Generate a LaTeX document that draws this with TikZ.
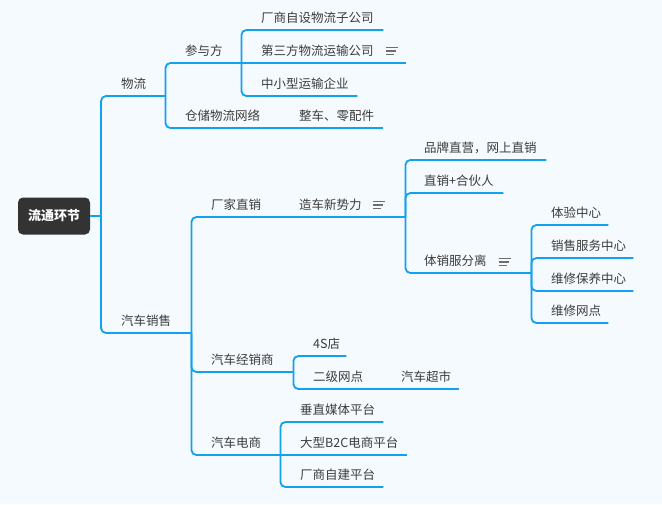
\documentclass[tikz,border=0pt]{standalone}
\usepackage{fontspec}
\setmainfont{Noto Sans CJK SC}
\usepackage{tikz}
\usetikzlibrary{calc,positioning}
\definecolor{bgcol}{RGB}{245,250,254}
\definecolor{linecol}{RGB}{18,161,236}
\definecolor{txtcol}{RGB}{60,60,60}
\definecolor{rootcol}{RGB}{51,51,51}
\definecolor{iconcol}{RGB}{110,110,110}
\tikzset{
  branch/.style={draw=linecol, line width=1.8pt, rounded corners=5pt},
  root/.style={draw=none, fill=rootcol, rounded corners=5pt, minimum width=72pt, minimum height=37pt,
    text=white, font=\fontsize{13}{15}\selectfont\bfseries, inner sep=0pt},
  topic/.style={anchor=south west, inner xsep=0pt, inner ysep=0pt, text height=10pt, text depth=7.3pt,
    text width=#1, align=left, text=txtcol, font=\fontsize{12.5}{14}\selectfont},
  noteicon/.pic={
    \draw[iconcol, line width=1.1pt] (0,-3.5) -- (12,-3.5) (0,0) -- (10,0) (0,3.5) -- (8,3.5);
  }
}
\begin{document}
\begin{tikzpicture}[x=1pt,y=-1pt]
  \fill[bgcol] (0,0) rectangle (662,504);
  \useasboundingbox (0,0) rectangle (662,504);

  \node[root] (liutong) at (54,216) {流通环节};
  \coordinate (rootj) at (101,216);

  \node[topic=44pt] (wuliu) at (121,96) {物流};
  \node[topic=70pt] (qiche) at (121,333) {汽车销售};

  \node[topic=56pt] (canyu) at (185,63) {参与方};
  \node[topic=94pt] (cangchu) at (185,128) {仓储物流网络};
  \node[topic=84pt] (zhengche) at (299,128) {整车、零配件};
  \node[topic=122pt] (chang) at (261,30) {厂商自设物流子公司};
  \node[topic=145pt] (disan) at (261,63) {第三方物流运输公司};
  \node[topic=96pt] (zhongxiao) at (261,96) {中小型运输企业};
  \pic at (386,51) {noteicon};

  \node[topic=68pt] (changjia) at (211,217) {厂家直销};
  \node[topic=106pt] (zaoche) at (299,217) {造车新势力};
  \pic at (373,205) {noteicon};
  \node[topic=122pt] (pinpai) at (424,160) {品牌直营，网上直销};
  \node[topic=79pt] (hehuo) at (424,193) {直销+合伙人};
  \node[topic=107pt] (tixiao) at (424,273) {体销服分离};
  \pic at (499,262) {noteicon};
  \node[topic=57pt] (tiyan) at (551,225) {体验中心};
  \node[topic=82pt] (xiaoshou) at (551,258) {销售服务中心};
  \node[topic=82pt] (baoyang) at (551,291) {维修保养中心};
  \node[topic=57pt] (wangdian) at (551,323) {维修网点};

  \node[topic=82pt] (jingxiao) at (211,372) {汽车经销商};
  \node[topic=33pt] (sisdian) at (313,356) {4S店};
  \node[topic=68pt] (erji) at (313,389) {二级网点};
  \node[topic=58pt] (chaoshi) at (401,389) {汽车超市};

  \node[topic=69pt] (dianshang) at (211,455) {汽车电商};
  \node[topic=83pt] (chuizhi) at (300,422) {垂直媒体平台};
  \node[topic=107pt] (btoc) at (300,455) {大型B2C电商平台};
  \node[topic=83pt] (zijian) at (300,487) {厂商自建平台};

  \draw[branch] (liutong.east) -- (rootj);
  \draw[branch] (rootj) |- (wuliu.south east);
  \draw[branch] (rootj) |- (qiche.south east);

  \draw[branch] (wuliu.south east) |- (canyu.south east);
  \draw[branch] (wuliu.south east) |- (cangchu.south east);
  \draw[branch] (cangchu.south east) -- (zhengche.south east);
  \draw[branch] (canyu.south east) |- (chang.south east);
  \draw[branch] (canyu.south east) -- (disan.south east);
  \draw[branch] (canyu.south east) |- (zhongxiao.south east);

  \draw[branch] (qiche.south east) |- (changjia.south east);
  \draw[branch] (qiche.south east) |- (jingxiao.south east);
  \draw[branch] (qiche.south east) |- (dianshang.south east);

  \draw[branch] (changjia.south east) -- (zaoche.south east);
  \draw[branch] (zaoche.south east) |- (pinpai.south east);
  \draw[branch] (zaoche.south east) |- (hehuo.south east);
  \draw[branch] (zaoche.south east) |- (tixiao.south east);
  \draw[branch] (tixiao.south east) |- (tiyan.south east);
  \draw[branch] (tixiao.south east) |- (xiaoshou.south east);
  \draw[branch] (tixiao.south east) |- (baoyang.south east);
  \draw[branch] (tixiao.south east) |- (wangdian.south east);

  \draw[branch] (jingxiao.south east) |- (sisdian.south east);
  \draw[branch] (jingxiao.south east) |- (erji.south east);
  \draw[branch] (erji.south east) -- (chaoshi.south east);

  \draw[branch] (dianshang.south east) |- (chuizhi.south east);
  \draw[branch] (dianshang.south east) -- (btoc.south east);
  \draw[branch] (dianshang.south east) |- (zijian.south east);
\end{tikzpicture}
\end{document}
